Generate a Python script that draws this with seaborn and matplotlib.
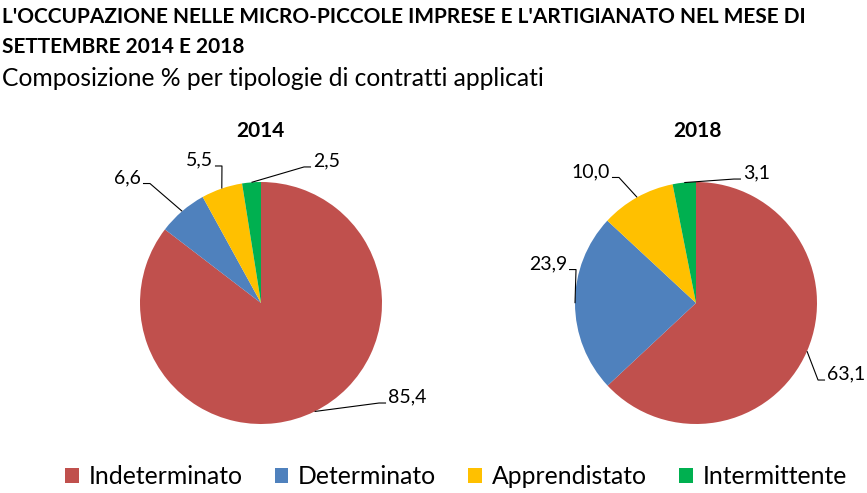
import matplotlib
matplotlib.use("Agg")
import matplotlib.pyplot as plt
import seaborn as sns
import numpy as np
from matplotlib.patches import Patch

# ---- data ----
categories = ["Indeterminato", "Determinato", "Apprendistato", "Intermittente"]
years = ["2014", "2018"]
values_2014 = [85.4, 6.6, 5.5, 2.5]
values_2018 = [63.1, 23.9, 10.0, 3.1]
labels_2014 = ["85,4", "6,6", "5,5", "2,5"]
labels_2018 = ["63,1", "23,9", "10,0", "3,1"]
title_line1 = "L'OCCUPAZIONE NELLE MICRO-PICCOLE IMPRESE E L'ARTIGIANATO NEL MESE DI"
title_line2 = "SETTEMBRE 2014 E 2018"
subtitle = "Composizione % per tipologie di contratti applicati"

sns.set_theme(style="white")
plt.rcParams["font.family"] = ["Lato", "DejaVu Sans"]
plt.rcParams["text.color"] = "black"
colors = sns.color_palette(["#C0504D", "#4F81BD", "#FFC000", "#00B050"])

W, H = 867, 493
fig = plt.figure(figsize=(W / 100, H / 100), dpi=100)
fig.patch.set_facecolor("white")

R = 121.0      # pie radius in px
LIM = 1.6
centers = [(261, 303), (696, 303)]
title_x = [260, 697]
# label anchor positions (in radius units, relative to centre) and alignment
label_pos = [
    [(1.050, -0.777, "left"), (-0.992, 1.037, "right"), (-0.397, 1.182, "right"), (0.430, 1.174, "left")],
    [(1.083, -0.587, "left"), (-1.066, 0.326, "right"), (-0.711, 1.087, "right"), (0.388, 1.074, "left")],
]

for i, (vals, labs) in enumerate([(values_2014, labels_2014), (values_2018, labels_2018)]):
    cx, cy = centers[i]
    half = LIM * R
    ax = fig.add_axes([(cx - half) / W, (H - cy - half) / H, 2 * half / W, 2 * half / H])
    wedges, _ = ax.pie(vals, colors=colors, startangle=90, counterclock=False,
                       wedgeprops=dict(linewidth=0))
    ax.set_xlim(-LIM, LIM)
    ax.set_ylim(-LIM, LIM)
    ax.set_aspect("equal")
    ax.axis("off")
    for w, lab, (tx, ty, ha) in zip(wedges, labs, label_pos[i]):
        ang = np.deg2rad((w.theta1 + w.theta2) / 2)
        px, py = np.cos(ang), np.sin(ang)
        ax.text(tx, ty, lab, ha=ha, va="center", fontsize=14, color="black")
        sgn = -1 if ha == "left" else 1
        by = ty - 6 / R
        ex = tx + sgn * 9 / R
        ax.plot([px, ex, tx + sgn * 2 / R], [py, by, by], color="black", lw=0.8,
                solid_capstyle="butt", clip_on=False)
    fig.text(title_x[i] / W, 1 - 131 / H, years[i], ha="center", va="center",
             fontsize=15, fontweight="bold", color="black")

fig.text(2 / W, 1 - 17 / H, title_line1, ha="left", va="center", fontsize=15,
         fontweight="bold", color="black")
fig.text(2 / W, 1 - 47 / H, title_line2, ha="left", va="center", fontsize=15,
         fontweight="bold", color="black")
fig.text(2 / W, 1 - 78 / H, subtitle, ha="left", va="center", fontsize=17.7, color="black")

handles = [Patch(facecolor=c, edgecolor="none") for c in colors]
leg = fig.legend(handles, categories, loc="center", bbox_to_anchor=(456 / W, 1 - 477 / H),
                 ncol=4, frameon=False, fontsize=17.8, handlelength=0.55, handleheight=0.55,
                 handletextpad=0.4, columnspacing=1.3)
for t in leg.get_texts():
    t.set_color("black")

fig.savefig("out.png", dpi=100, facecolor="white")
